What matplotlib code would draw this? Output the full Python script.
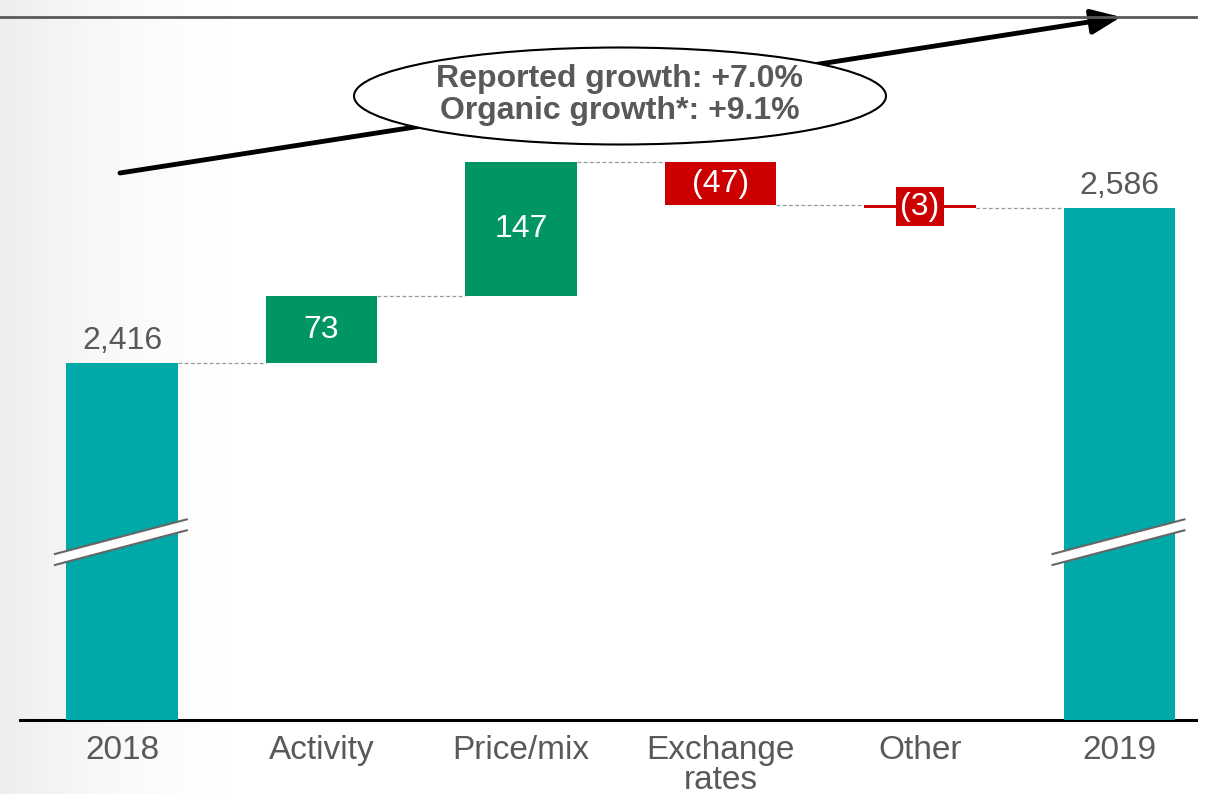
import numpy as np
import matplotlib
matplotlib.use("Agg")
from matplotlib import pyplot as plt
from matplotlib.patches import Ellipse, Polygon
from matplotlib.lines import Line2D

plt.rcParams['font.family'] = ['Liberation Sans', 'DejaVu Sans']

# Data
categories = ['2018', 'Activity', 'Price/mix', 'Exchange\nrates', 'Other', '2019']
start_value = 2416
deltas = [73, 147, -47, -3]
end_value = 2586
labels = ['2,416', '73', '147', '(47)', '(3)', '2,586']
headline = 'Reported growth: +7.0%\nOrganic growth*: +9.1%'

TEAL = '#00A8A8'
GREEN = '#009661'
RED = '#CC0000'
GREY = '#595959'

W, H = 1209, 794
fig = plt.figure(figsize=(W / 100, H / 100), dpi=100)

# background gradient (slide style, grey at left fading to white)
bg = fig.add_axes([0, 0, 1, 1], zorder=-10)
xs = np.linspace(0, W, 400)
fade = np.clip(xs / 300.0, 0, 1)
row = 0.93 + 0.07 * (1 - (1 - fade) ** 2)
grad = np.tile(row, (50, 1))
bg.imshow(grad, aspect='auto', cmap='gray', vmin=0, vmax=1, extent=[0, 1, 0, 1])
bg.axis('off')

ax = fig.add_axes([20 / W, 74 / H, 1176 / W, 720 / H])
ax.patch.set_alpha(0)

ymin, ymax = 2024.5, 2814
ax.set_xlim(-0.511, 5.383)
ax.set_ylim(ymin, ymax)

width = 0.557
x = np.arange(len(categories))

# waterfall geometry
bottoms, heights, colors = [ymin], [start_value - ymin], [TEAL]
running = start_value
levels = [start_value]
for d in deltas:
    new = running + d
    bottoms.append(min(running, new))
    heights.append(abs(d))
    colors.append(GREEN if d > 0 else RED)
    running = new
    levels.append(running)
bottoms.append(ymin)
heights.append(end_value - ymin)
colors.append(TEAL)

ax.bar(x, heights, width, bottom=bottoms, color=colors, zorder=3)

# connectors
for i in range(len(categories) - 1):
    ax.plot([x[i] + width / 2, x[i + 1] - width / 2], [levels[i], levels[i]],
            ls=(0, (3, 2)), lw=0.9, color='#999999', zorder=2)

# value labels
for i, lab in enumerate(labels):
    top = bottoms[i] + heights[i]
    if i in (0, len(categories) - 1):
        ax.annotate(lab, (x[i], top), xytext=(0, 5), textcoords='offset points',
                    ha='center', va='bottom', fontsize=23, color=GREY)
    elif i == 4:
        ax.text(x[i], bottoms[i] + heights[i] / 2, lab, ha='center', va='center',
                fontsize=23, color='white', zorder=5,
                bbox=dict(boxstyle='square,pad=0.13', fc=RED, ec='none'))
    else:
        ax.text(x[i], bottoms[i] + heights[i] / 2, lab,
                ha='center', va='center', fontsize=23, color='white', zorder=5)

# axis break marks on total bars
break_level = ymin + 182
for i in (0, len(categories) - 1):
    xl, xr = x[i] - 0.336, x[i] + 0.325
    yl = break_level
    yr = yl + 38
    gap = 12
    ax.add_patch(Polygon([[xl, yl], [xr, yr], [xr, yr - gap], [xl, yl - gap]],
                         closed=True, fc='white', ec='none', zorder=4, clip_on=False))
    ax.plot([xl, xr], [yl, yr], color='#666666', lw=1.5, zorder=4, clip_on=False)
    ax.plot([xl, xr], [yl - gap, yr - gap], color='#666666', lw=1.5, zorder=4, clip_on=False)

# axes styling
for s in ['top', 'right', 'left']:
    ax.spines[s].set_visible(False)
ax.spines['bottom'].set_linewidth(2.2)
ax.spines['bottom'].set_color('black')
ax.set_yticks([])
ax.set_xticks(x)
ax.set_xticklabels(categories, fontsize=24, color=GREY, linespacing=0.95)
ax.tick_params(axis='x', length=0, pad=11)

# top rule line
fig.add_artist(Line2D([0, 1196 / W], [1 - 17 / H, 1 - 17 / H], color=GREY, lw=2))

# growth arrow
ax.annotate('', xy=(1121 / W, 1 - 17 / H), xycoords='figure fraction',
            xytext=(120 / W, 1 - 173 / H), textcoords='figure fraction',
            arrowprops=dict(arrowstyle='-|>,head_length=0.9,head_width=0.38',
                            lw=3.5, color='black', shrinkA=0, shrinkB=0,
                            mutation_scale=20))

ell = Ellipse((620 / W, 1 - 96 / H), 532 / W, 97 / H, transform=fig.transFigure,
              fc='white', ec='black', lw=1.5, zorder=20)
fig.add_artist(ell)
fig.text(620 / W, 1 - 95 / H, headline, ha='center', va='center', fontsize=23,
         fontweight='bold', color=GREY, linespacing=1.12, zorder=21)

fig.savefig('out.png', dpi=100)
